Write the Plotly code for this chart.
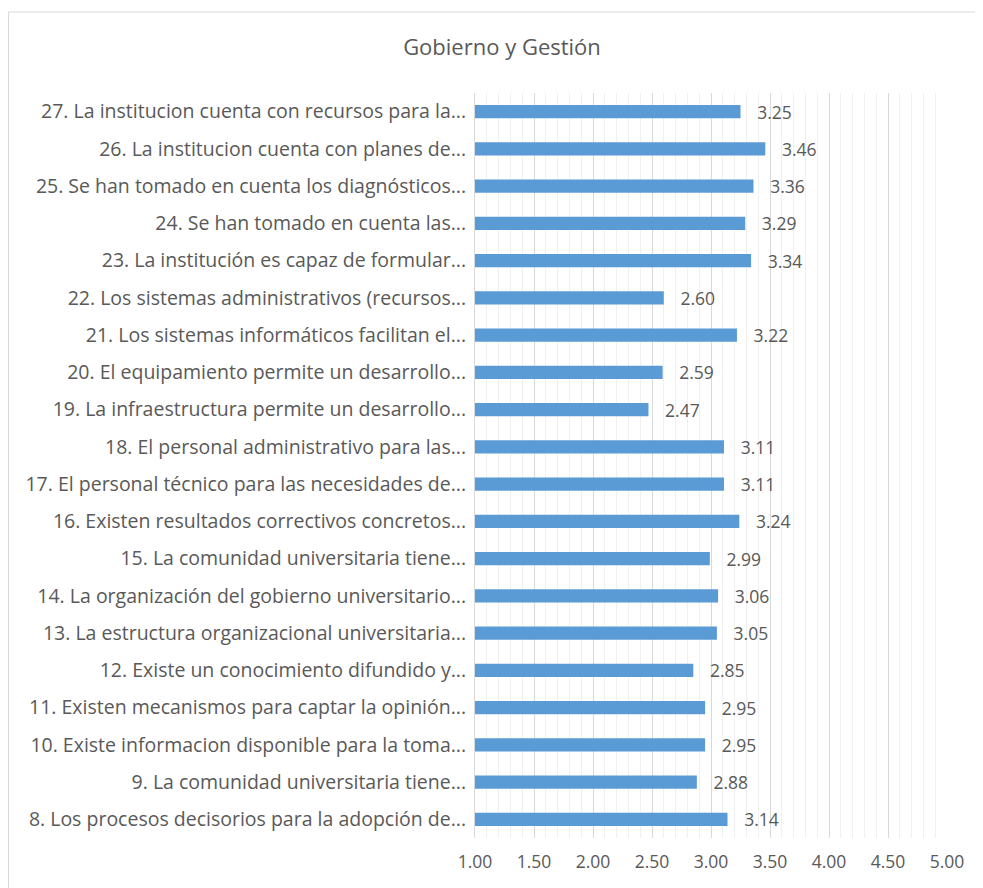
import plotly.graph_objects as go

labels = [
    "8. Los procesos decisorios para la adopción de...",
    "9. La comunidad universitaria tiene...",
    "10. Existe informacion disponible para la toma...",
    "11. Existen mecanismos para captar la opinión...",
    "12. Existe un conocimiento difundido y...",
    "13. La estructura organizacional universitaria...",
    "14. La organización del gobierno universitario...",
    "15. La comunidad universitaria tiene...",
    "16. Existen resultados correctivos concretos...",
    "17. El personal técnico para las necesidades de...",
    "18. El personal administrativo para las...",
    "19. La infraestructura permite un desarrollo...",
    "20. El equipamiento permite un desarrollo...",
    "21. Los sistemas informáticos facilitan el...",
    "22. Los sistemas administrativos (recursos...",
    "23. La institución es capaz de formular...",
    "24. Se han tomado en cuenta las...",
    "25. Se han tomado en cuenta los diagnósticos...",
    "26. La institucion cuenta con planes de...",
    "27. La institucion cuenta con recursos para la...",
]
values = [3.14, 2.88, 2.95, 2.95, 2.85, 3.05, 3.06, 2.99, 3.24, 3.11,
          3.11, 2.47, 2.59, 3.22, 2.60, 3.34, 3.29, 3.36, 3.46, 3.25]
x_ticks = [1.0, 1.5, 2.0, 2.5, 3.0, 3.5, 4.0, 4.5, 5.0]
title_text = "Gobierno y Gestión"

FONT = "Open Sans"
TXT = "#595959"

# plot area in figure pixels
L, R, T, B = 467, 939, 85, 830

fig = go.Figure()
fig.add_trace(go.Bar(
    y=labels, x=values, orientation="h",
    marker=dict(color="#5B9BD5", line=dict(width=0)),
    texttemplate="\u00a0\u00a0\u00a0%{x:.2f}", textposition="outside",
    constraintext="none",
    textfont=dict(family=FONT, size=17.5, color=TXT),
    cliponaxis=False,
))

fig.update_layout(
    width=983, height=888,
    margin=dict(l=L, r=983 - R, t=T, b=888 - B),
    paper_bgcolor="white", plot_bgcolor="white",
    bargap=0.64,
    showlegend=False,
    title=dict(text=title_text, x=494 / 983, xanchor="center", y=1 - 39 / 888, yanchor="middle",
               font=dict(family=FONT, size=22, color=TXT)),
    font=dict(family=FONT, color=TXT),
    xaxis=dict(
        range=[1, 5], tickvals=x_ticks, ticktext=[f"{v:.2f}" for v in x_ticks],
        showgrid=True, gridcolor="#D9D9D9", gridwidth=1,
        minor=dict(dtick=0.1, showgrid=True, gridcolor="#F0F0F0", gridwidth=1),
        zeroline=False, showline=False, ticks="",
        tickfont=dict(family=FONT, size=17.5, color=TXT),
        ticklabelstandoff=11,
    ),
    yaxis=dict(
        showline=True, linecolor="#D9D9D9", linewidth=1,
        showgrid=False, ticks="", zeroline=False,
        tickfont=dict(family=FONT, size=19.5, color=TXT),
        ticklabelstandoff=4,
    ),
    shapes=[dict(type="rect", xref="paper", yref="paper",
                 x0=(0.5 - L) / (R - L), x1=1.2, y0=-0.2, y1=1 + (T - 4) / (B - T),
                 line=dict(color="#D9D9D9", width=1), fillcolor="rgba(0,0,0,0)",
                 layer="below")],
)

fig.write_html("out.html")
